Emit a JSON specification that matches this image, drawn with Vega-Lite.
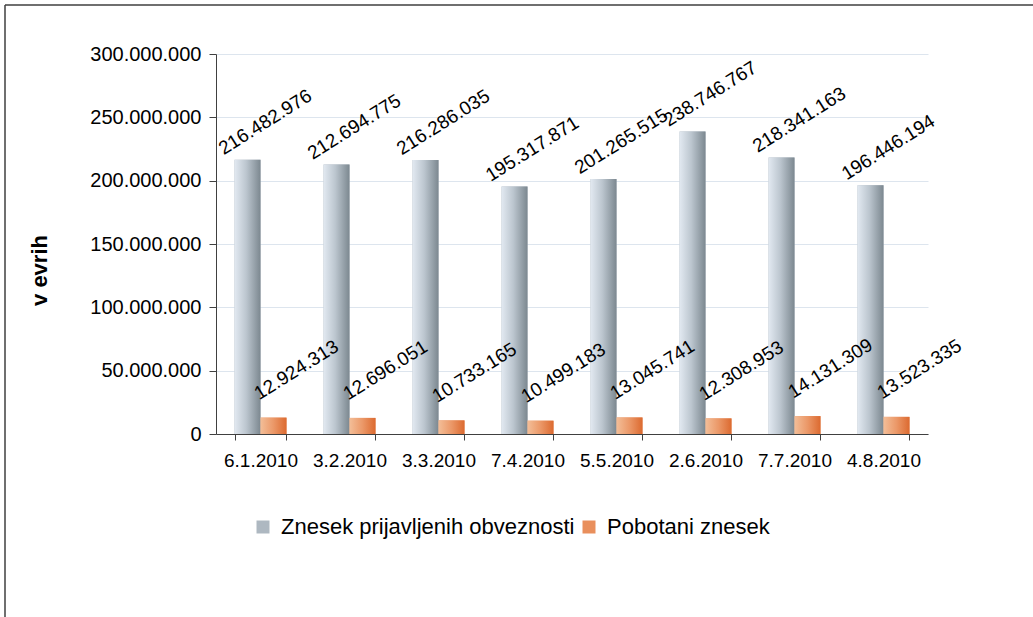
{
  "$schema": "https://vega.github.io/schema/vega-lite/v6.json",
  "width": 1028,
  "height": 612,
  "autosize": {"type": "none"},
  "padding": {"left": 5, "top": 5, "right": 0, "bottom": 0},
  "background": "white",
  "config": {
    "locale": {"number": {"decimal": ",", "thousands": ".", "grouping": [3], "currency": ["", " €"]}},
    "view": {"stroke": "#404040", "strokeWidth": 1.5, "strokeDash": [1028, 1640, 612, 0]},
    "font": "Liberation Sans",
    "text": {"font": "Liberation Sans"}
  },
  "data": {
    "values": [
      {"date": "6.1.2010", "series": "Znesek prijavljenih obveznosti", "value": 216482976},
      {"date": "3.2.2010", "series": "Znesek prijavljenih obveznosti", "value": 212694775},
      {"date": "3.3.2010", "series": "Znesek prijavljenih obveznosti", "value": 216286035},
      {"date": "7.4.2010", "series": "Znesek prijavljenih obveznosti", "value": 195317871},
      {"date": "5.5.2010", "series": "Znesek prijavljenih obveznosti", "value": 201265515},
      {"date": "2.6.2010", "series": "Znesek prijavljenih obveznosti", "value": 238746767},
      {"date": "7.7.2010", "series": "Znesek prijavljenih obveznosti", "value": 218341163},
      {"date": "4.8.2010", "series": "Znesek prijavljenih obveznosti", "value": 196446194},
      {"date": "6.1.2010", "series": "Pobotani znesek", "value": 12924313},
      {"date": "3.2.2010", "series": "Pobotani znesek", "value": 12696051},
      {"date": "3.3.2010", "series": "Pobotani znesek", "value": 10733165},
      {"date": "7.4.2010", "series": "Pobotani znesek", "value": 10499183},
      {"date": "5.5.2010", "series": "Pobotani znesek", "value": 13045741},
      {"date": "2.6.2010", "series": "Pobotani znesek", "value": 12308953},
      {"date": "7.7.2010", "series": "Pobotani znesek", "value": 14131309},
      {"date": "4.8.2010", "series": "Pobotani znesek", "value": 13523335}
    ]
  },
  "encoding": {
    "x": {
      "field": "date", "type": "nominal",
      "scale": {"domain": ["6.1.2010", "3.2.2010", "3.3.2010", "7.4.2010", "5.5.2010", "2.6.2010", "7.7.2010", "4.8.2010"], "range": [211, 923], "paddingInner": 0.416, "paddingOuter": 0.208},
      "axis": {"title": null, "labelAngle": 0, "labelFontSize": 19, "labelColor": "black", "labelPadding": 11, "tickBand": "extent", "tickSize": 6, "tickColor": "#404040", "domainColor": "#404040", "offset": -183, "grid": false}
    },
    "xOffset": {"field": "series", "type": "nominal", "scale": {"domain": ["Znesek prijavljenih obveznosti", "Pobotani znesek"], "paddingInner": 0, "paddingOuter": 0}},
    "y": {
      "field": "value", "type": "quantitative",
      "scale": {"domain": [0, 300000000], "range": [429, 49], "nice": false, "zero": true},
      "axis": {"title": "v evrih", "titleFontSize": 22, "titleFontWeight": "bold", "titleColor": "black", "titleX": -177, "titleY": 265, "titleAngle": 270, "titleAlign": "center", "titleBaseline": "middle", "format": ",d", "values": [0, 50000000, 100000000, 150000000, 200000000, 250000000, 300000000], "labelFontSize": 20, "labelColor": "black", "labelPadding": 8, "tickSize": 7, "tickColor": "#404040", "domainColor": "#404040", "gridColor": "#dde5ee", "gridWidth": 1, "offset": -211}
    }
  },
  "layer": [
    {
      "mark": {"type": "bar"},
      "encoding": {
        "color": {
          "field": "series", "type": "nominal",
          "scale": {"domain": ["Znesek prijavljenih obveznosti", "Pobotani znesek"], "range": ["#aeb8c1", "#e98f5c"]},
          "legend": {"title": null, "orient": "none", "legendX": 247, "legendY": 511, "direction": "horizontal", "labelFontSize": 22, "labelLimit": 0, "labelColor": "black", "symbolType": "square", "symbolSize": 169, "symbolStrokeWidth": 0, "labelOffset": 7, "columnPadding": 3, "padding": 0}
        }
      }
    },
    {
      "transform": [{"filter": "datum.series === 'Znesek prijavljenih obveznosti'"}],
      "mark": {"type": "bar", "fill": {"gradient": "linear", "x1": 0, "y1": 0, "x2": 1, "y2": 0, "stops": [{"offset": 0, "color": "#e2e9f1"}, {"offset": 0.45, "color": "#bcc6cf"}, {"offset": 1, "color": "#7c8890"}]}}
    },
    {
      "transform": [{"filter": "datum.series === 'Pobotani znesek'"}],
      "mark": {"type": "bar", "fill": {"gradient": "linear", "x1": 0, "y1": 0, "x2": 1, "y2": 0, "stops": [{"offset": 0, "color": "#f3be98"}, {"offset": 0.5, "color": "#eb9868"}, {"offset": 1, "color": "#dc6a30"}]}}
    },
    {
      "transform": [{"filter": "datum.series === 'Znesek prijavljenih obveznosti'"}],
      "mark": {"type": "text", "angle": 328, "align": "center", "baseline": "middle", "fontSize": 19, "dx": 35.0, "dy": -22.5, "color": "black"},
      "encoding": {"text": {"field": "value", "type": "quantitative", "format": ",d"}}
    },
    {
      "transform": [{"filter": "datum.series === 'Pobotani znesek'"}],
      "mark": {"type": "text", "angle": 328, "align": "center", "baseline": "middle", "fontSize": 19, "dx": 44.7, "dy": -28.3, "color": "black"},
      "encoding": {"text": {"field": "value", "type": "quantitative", "format": ",d"}}
    }
  ]
}
